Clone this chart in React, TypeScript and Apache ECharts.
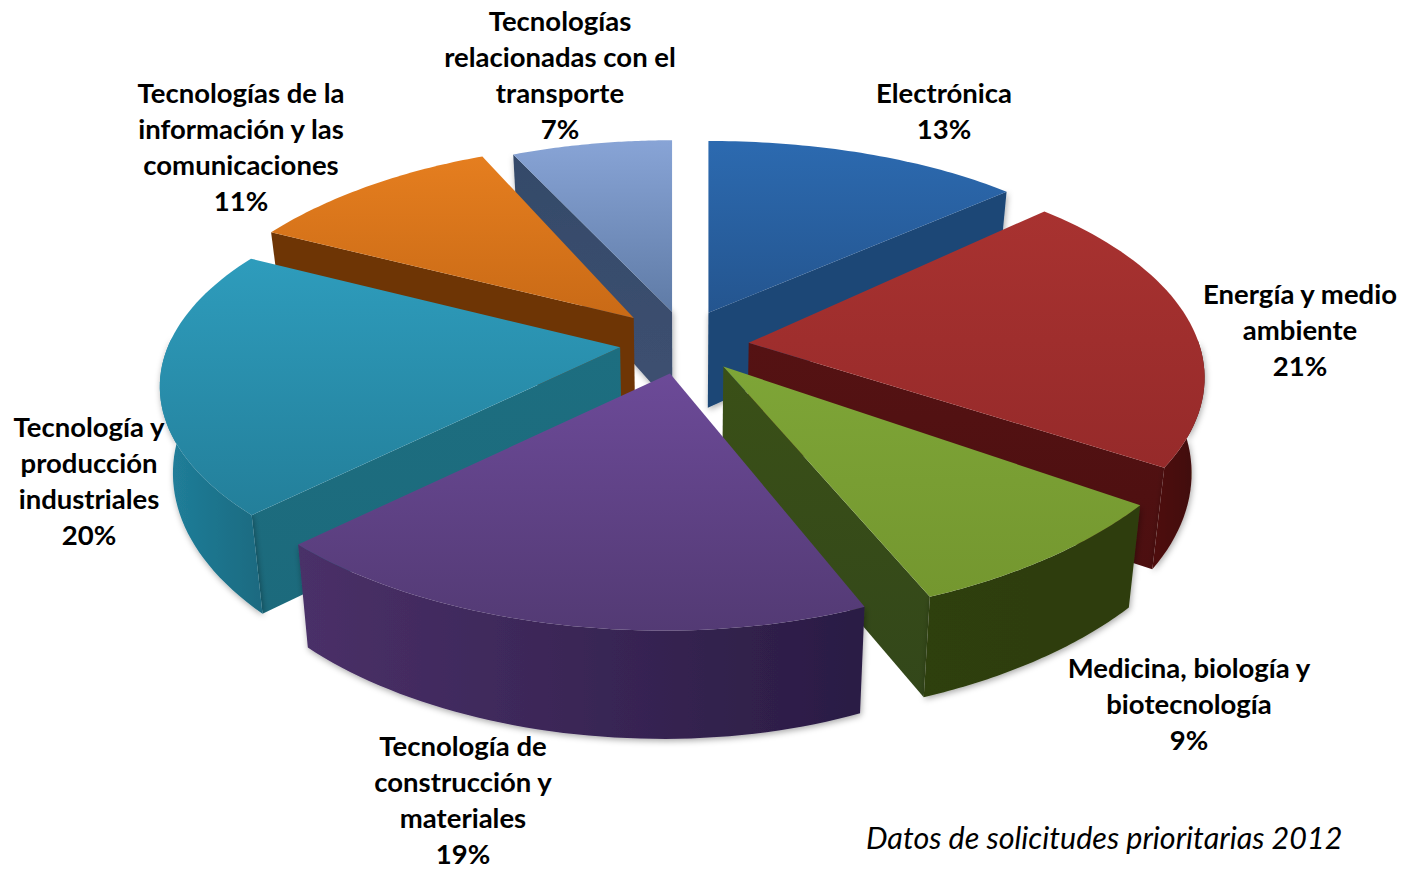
import React, { useEffect, useRef } from "react";
import * as echarts from "echarts";

const categories = ["Electrónica","Energía y medio ambiente","Medicina, biología y biotecnología","Tecnología de construcción y materiales","Tecnología y producción industriales","Tecnologías de la información y las comunicaciones","Tecnologías relacionadas con el transporte"];
const values = [13, 21, 9, 19, 20, 11, 7];
const labelLines = [["Electrónica"],["Energía y medio","ambiente"],["Medicina, biología y","biotecnología"],["Tecnología de","construcción y","materiales"],["Tecnología y","producción","industriales"],["Tecnologías de la","información y las","comunicaciones"],["Tecnologías","relacionadas con el","transporte"]];
const note = "Datos de solicitudes prioritarias 2012";

const labelPos = [[944,92],[1300,293],[1189,667],[463,745],[89,426],[241,92],[560,20]];
const drawOrder = [6,0,5,1,4,2,3];
const topColors = [["#2c6ab0","#24558f"],["#a83230","#962a2a"],["#7ea537","#74972f"],["#6c4a98","#533a74"],["#2e9cbc","#237f9a"],["#e57e1f","#c96a16"],["#88a4d6","#5f7ba6"]];
const radialColors = [["#1c4776","#1c4776"],["#551213","#4c0f10"],["#3a5017","#33471a"],["#4c3468","#4c3468"],["#1d6e80","#1c6a7c"],["#6e3505","#6e3505"],["#344a6a","#3e5070"]];
const outerColors = [["#1c4776","#1c4776"],["#4f1010","#3d0c0a"],["#2f3f10","#2e3d10"],["#4a3068","#2a1c44"],["#21809c","#1a6a80"],["#6e3505","#6e3505"],["#344a6a","#344a6a"]];

// Layout of the perspective drawing, per slice
const apexNudge = [[-2,0],[0,2],[-4,-3],[-5,-4],[-2,-3],[-6,-2],[1,1]];
const arcNudge = [[0,0],[0,0],[0,0],[-27,2],[0,-10],[0,0],[0,0]];
const radiusX = [437,450,507,445,448,452,427];
const radiusY = [189,213,266,214,203,227,199];
const perspective = [0.1,0.16,-0.05,0.16,0.23,0.3,0.16];
const tilt = [0,0,0,0.022,0,0,0];
const wallDepth = [90,93,105,91,82,90,90];

const CX=685, CY=344, EX=64, EY=34, APEX_DEPTH=95, TAPER=0.975;
const total = values.reduce((a,b)=>a+b,0);
const starts:number[] = []; values.reduce((acc,v,i)=>{starts[i]=acc; return acc+v;},0);

function grad(c:string[],h=false){return new echarts.graphic.LinearGradient(0,0,h?1:0,h?0:1,[{offset:0,color:c[0]},{offset:1,color:c[1]}]);}
const shadow={shadowBlur:6,shadowColor:"rgba(0,0,0,0.35)",shadowOffsetX:1,shadowOffsetY:2};

function renderItem(params:any, api:any){
  const i = api.value(0);
  const a0 = starts[i]/total*Math.PI*2, a1=(starts[i]+values[i])/total*Math.PI*2, m=(a0+a1)/2;
  const ax = CX+EX*Math.sin(m)+apexNudge[i][0], ay=CY-EY*Math.cos(m)+apexNudge[i][1];
  const ox = ax+arcNudge[i][0], oy=ay+arcNudge[i][1];
  const pt=(t:number)=>{const u=Math.sin(t),v=Math.cos(t),s=1/(1+perspective[i]*v);const x=radiusX[i]*u*s;return [ox+x,oy-radiusY[i]*v*s+tilt[i]*x,s];};
  const bot=(p:number[])=>[CX+(p[0]-CX)*TAPER,p[1]+wallDepth[i]*p[2]];
  const n=48, arc:number[][]=[];
  for(let k=0;k<=n;k++) arc.push(pt(a0+(a1-a0)*k/n));
  const apexBot=[CX+(ax-CX)*TAPER,ay+APEX_DEPTH];
  const wall=(p:number[])=>({type:"polygon",shape:{points:[[ax,ay],[p[0],p[1]],bot(p),apexBot]},style:{fill:grad(radialColors[i]),...(i===0||i===6?shadow:{})}});
  const children:any[]=[];
  if(Math.sin(a0)<-1e-6) children.push(wall(arc[0]));
  if(Math.sin(a1)>1e-6) children.push(wall(arc[n]));
  const front=arc.filter((_,k)=>Math.cos(a0+(a1-a0)*k/n)<0.02);
  if(front.length>1){
    const low=front.map(bot).reverse();
    children.push({type:"polygon",shape:{points:[...front.map(p=>[p[0],p[1]]),...low]},style:{fill:grad(outerColors[i],true),...shadow}});
  }
  children.push({type:"polygon",shape:{points:[[ax,ay],...arc.map(p=>[p[0],p[1]])]},style:{fill:grad(topColors[i])}});
  return {type:"group",children};
}

export default function App(){
  const ref=useRef<HTMLDivElement>(null);
  useEffect(()=>{
    const chart=echarts.init(ref.current!,undefined,{renderer:"svg"});
    const font={fontFamily:"Lato",fontWeight:"bold" as const,fontSize:27.5,lineHeight:26,fill:"#000",textAlign:"center" as const,textVerticalAlign:"middle" as const};
    const labels:any[]=[];
    labelLines.forEach((l,i)=>{
      [...l,`${values[i]}%`].forEach((t,k)=>{
        labels.push({type:"text",x:labelPos[i][0],y:labelPos[i][1]+36*k,z:10,style:{...font,text:t}});
      });
    });
    chart.setOption({
      animation:false,
      backgroundColor:"#fff",
      series:[{type:"custom",coordinateSystem:"none",renderItem,silent:true,
        data:drawOrder.map(i=>({name:categories[i],value:[i,values[i]]}))}],
      graphic:[...labels,
        {type:"text",x:866,y:822,z:10,style:{text:note,fontFamily:"Lato",fontStyle:"italic",fontSize:30.5,fill:"#000"}}]
    });
    return ()=>chart.dispose();
  },[]);
  return <div ref={ref} style={{position:"fixed",left:0,top:0,width:1403,height:869}}/>;
}
